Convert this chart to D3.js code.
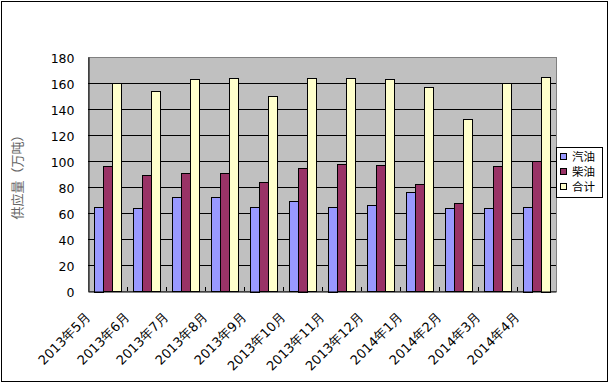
<!DOCTYPE html>
<html>
<head>
<meta charset="utf-8">
<script src="https://cdn.jsdelivr.net/npm/d3@7"></script>
<style>
  body { margin: 0; background: #fff; }
  svg { display: block; }
</style>
</head>
<body>
<svg id="chart" width="611" height="384"></svg>
<script>
var months = ['2013年5月', '2013年6月', '2013年7月', '2013年8月', '2013年9月', '2013年10月',
  '2013年11月', '2013年12月', '2014年1月', '2014年2月', '2014年3月', '2014年4月'];
var seriesNames = ['汽油', '柴油', '合计'];
var gasoline = [65, 64, 72, 72, 65, 69, 65, 66, 76, 64, 64, 65];
var diesel = [96, 89, 91, 91, 84, 95, 98, 97, 82, 68, 96, 100];
var total = [160, 154, 163, 164, 150, 164, 164, 163, 157, 132, 160, 165];
var yTicks = [0, 20, 40, 60, 80, 100, 120, 140, 160, 180];
var colors = ['#9999ff', '#993366', '#ffffcc'];

(function(){
  var svg = d3.select('svg#chart');
  var left = 88, right = 556, plotTop = 57, bottom = 291;

  // outer frame
  svg.append('rect')
    .attr('x', 1.5).attr('y', 1.5)
    .attr('width', 606).attr('height', 380)
    .attr('fill', '#fff').attr('stroke', '#000').attr('stroke-width', 1);

  var x0 = d3.scaleBand().domain(months).range([left, right]).padding(0);
  var x1 = d3.scaleBand().domain(seriesNames).range([6, 33]).padding(0);
  var y = d3.scaleLinear().domain([0, 180]).range([bottom, plotTop]);

  // plot area
  svg.append('rect')
    .attr('x', left + 0.5).attr('y', plotTop + 0.5)
    .attr('width', right - left).attr('height', bottom - plotTop)
    .attr('fill', '#c0c0c0').attr('stroke', '#808080');

  // gridlines
  var grid = svg.append('g')
    .attr('transform', 'translate(' + left + ',0)')
    .call(d3.axisLeft(y).tickValues(yTicks.slice(1, -1)).tickSize(-(right - left)).tickFormat(''));
  grid.select('.domain').remove();
  grid.selectAll('line').attr('stroke', '#000');

  // bars
  var rows = months.map(function(m, i){
    return { month: m, values: [gasoline[i], diesel[i], total[i]] };
  });
  var groups = svg.append('g').selectAll('g')
    .data(rows).enter().append('g')
    .attr('transform', function(d){ return 'translate(' + Math.round(x0(d.month)) + ',0)'; });
  groups.selectAll('rect')
    .data(function(d){ return d.values.map(function(v, k){ return { name: seriesNames[k], value: v, k: k }; }); })
    .enter().append('rect')
    .attr('x', function(d){ return Math.round(x1(d.name)) + 0.5; })
    .attr('y', function(d){ return Math.round(y(d.value)) + 0.5; })
    .attr('width', x1.bandwidth())
    .attr('height', function(d){ return Math.round(bottom - y(d.value)); })
    .attr('fill', function(d){ return colors[d.k]; })
    .attr('stroke', '#000').attr('stroke-width', 1);

  // y axis
  var yAxis = svg.append('g')
    .attr('transform', 'translate(' + (left + 0.5) + ',0)')
    .call(d3.axisLeft(y).tickValues(yTicks).tickSize(0).tickPadding(14));
  yAxis.select('.domain').attr('stroke', '#000');
  yAxis.selectAll('text')
    .attr('font-family', 'DejaVu Sans').attr('font-size', 12.5).attr('fill', '#000')
    .attr('dy', '0.45em');

  // x axis
  var xAxis = svg.append('g')
    .attr('transform', 'translate(0,' + (bottom + 0.5) + ')')
    .call(d3.axisBottom(x0).tickSize(0).tickFormat(''));
  xAxis.select('.domain').attr('stroke', '#000');
  xAxis.selectAll('.tick').remove();

  // category boundary ticks (inside)
  svg.append('g').selectAll('line')
    .data(months.slice(1)).enter().append('line')
    .attr('x1', function(d){ return Math.round(x0(d)) + 0.5; })
    .attr('x2', function(d){ return Math.round(x0(d)) + 0.5; })
    .attr('y1', bottom).attr('y2', bottom - 4)
    .attr('stroke', '#000');

  // rotated month labels
  svg.append('g').selectAll('text')
    .data(months).enter().append('text')
    .attr('transform', function(d){
      var cx = x0(d) + x0.bandwidth() / 2;
      return 'translate(' + (cx - 16) + ',' + (bottom + 27) + ') rotate(-45)';
    })
    .attr('text-anchor', 'end')
    .attr('font-family', 'DejaVu Sans').attr('font-size', 13).attr('fill', '#000')
    .text(function(d){ return d; });

  // y axis title
  svg.append('text')
    .attr('transform', 'translate(22,' + ((plotTop + bottom) / 2) + ') rotate(-90)')
    .attr('text-anchor', 'middle')
    .attr('font-family', 'Noto Sans CJK SC').attr('font-size', 13).attr('fill', '#666')
    .text('供应量（万吨）');

  // legend
  var legend = svg.append('g').attr('transform', 'translate(556,147)');
  legend.append('rect')
    .attr('x', 0.5).attr('y', 0.5).attr('width', 46).attr('height', 50)
    .attr('fill', '#fff').attr('stroke', '#000');
  var item = legend.selectAll('g.item')
    .data(seriesNames).enter().append('g')
    .attr('class', 'item')
    .attr('transform', function(d, i){ return 'translate(0,' + (10 + i * 15) + ')'; });
  item.append('rect')
    .attr('x', 4.5).attr('y', -3.5).attr('width', 6).attr('height', 6)
    .attr('fill', function(d, i){ return colors[i]; })
    .attr('stroke', '#000');
  item.append('text')
    .attr('x', 16).attr('y', 0).attr('dy', '0.36em')
    .attr('font-family', 'Noto Sans CJK SC').attr('font-size', 11.5).attr('fill', '#000')
    .text(function(d){ return d; });
})();
</script>
</body>
</html>
